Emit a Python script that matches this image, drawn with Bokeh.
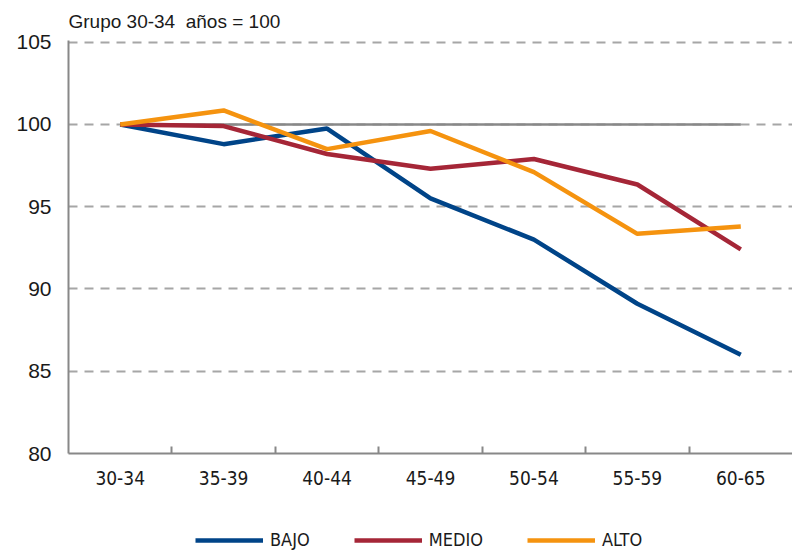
from bokeh.plotting import figure
from bokeh.layouts import column
from bokeh.models import FactorRange, Range1d, LinearAxis, FixedTicker, Legend, LegendItem
from bokeh.embed import file_html
from bokeh.resources import INLINE

groups = ["30-34", "35-39", "40-44", "45-49", "50-54", "55-59", "60-65"]
bajo = [100.0, 98.8, 99.75, 95.5, 93.0, 89.1, 86.0]
medio = [100.0, 99.9, 98.2, 97.3, 97.9, 96.35, 92.4]
alto = [100.0, 100.85, 98.5, 99.6, 97.1, 93.35, 93.8]
base = [100.0] * len(groups)
y_ticks = [80, 85, 90, 95, 100, 105]
grid_ticks = [85, 90, 95, 100, 105]
title_text = "Grupo 30-34\u00a0 años = 100"
series_names = ["BAJO", "MEDIO", "ALTO"]
series_colors = ["#004488", "#a52637", "#f5930f"]
series_values = [bajo, medio, alto]

NARROW = "'DejaVu Sans Condensed', 'Liberation Sans Narrow', 'Liberation Sans', sans-serif"
SANS = "'Liberation Sans', Arial, sans-serif"
TXT = "#1a1a1a"
GREY = "#888888"

W = 792
H_MAIN = 499
H_LEG = 52

p = figure(width=W, height=H_MAIN, output_backend="svg", toolbar_location=None,
           x_range=FactorRange(*groups, range_padding=0), y_range=Range1d(80, 105.1),
           x_axis_location=None, min_border_left=68, min_border_right=0,
           min_border_top=0, min_border_bottom=46)
p.outline_line_color = None
p.background_fill_color = "white"

p.title.text = title_text
p.title.text_font = SANS
p.title.text_font_size = "19px"
p.title.text_font_style = "normal"
p.title.text_color = TXT
p.title.align = "left"
p.title.standoff = 17

# y axis
yax = p.yaxis[0]
yax.ticker = FixedTicker(ticks=y_ticks)
yax.major_tick_out = 0
yax.major_tick_in = 0
yax.minor_tick_out = 0
yax.minor_tick_in = 0
yax.major_label_standoff = 17
yax.major_label_text_font = SANS
yax.major_label_text_font_size = "21px"
yax.major_label_text_color = TXT
yax.axis_line_color = GREY
yax.axis_line_width = 2

# x axis: labels at category centres, ticks at category boundaries
centers = [i + 0.5 for i in range(len(groups))]
bounds = [i for i in range(1, len(groups))]
xax = LinearAxis(ticker=FixedTicker(ticks=centers, minor_ticks=bounds),
                 major_label_overrides={c: g for c, g in zip(centers, groups)})
xax.major_tick_line_color = None
xax.major_tick_out = 0
xax.major_tick_in = 0
xax.minor_tick_in = 7
xax.minor_tick_out = 0
xax.minor_tick_line_color = GREY
xax.minor_tick_line_width = 2
xax.major_label_standoff = 17
xax.major_label_text_font = NARROW
xax.major_label_text_font_size = "19px"
xax.major_label_text_color = TXT
xax.axis_line_color = GREY
xax.axis_line_width = 2
p.add_layout(xax, "below")

p.xgrid.visible = False
p.ygrid.ticker = FixedTicker(ticks=grid_ticks)
p.ygrid.grid_line_color = "#a6a6a6"
p.ygrid.grid_line_width = 2
p.ygrid.grid_line_dash = "9 7"

p.line(groups, base, line_color=GREY, line_width=2.5)
for vals, col in zip(series_values, series_colors):
    p.line(groups, vals, line_color=col, line_width=4.5)

# legend strip underneath (series drawn again but outside its visible range)
pl = figure(width=W, height=H_LEG, output_backend="svg", toolbar_location=None,
            x_range=FactorRange(*groups, range_padding=0), y_range=Range1d(0, 1),
            x_axis_location=None, y_axis_location=None, min_border=0)
pl.outline_line_color = None
pl.xgrid.visible = False
pl.ygrid.visible = False
items = []
for name, vals, col in zip(series_names, series_values, series_colors):
    r = pl.line(groups, vals, line_color=col, line_width=4.5)
    items.append(LegendItem(label=name, renderers=[r]))
legend = Legend(items=items, orientation="horizontal", location=(127, 1),
                glyph_width=68, glyph_height=20, label_standoff=7, spacing=44,
                padding=0, margin=0, border_line_color=None,
                background_fill_alpha=0,
                label_text_font=NARROW, label_text_font_size="18px",
                label_text_color=TXT)
pl.add_layout(legend, "center")

open("out.html", "w").write(file_html(column(p, pl, spacing=0), INLINE))
